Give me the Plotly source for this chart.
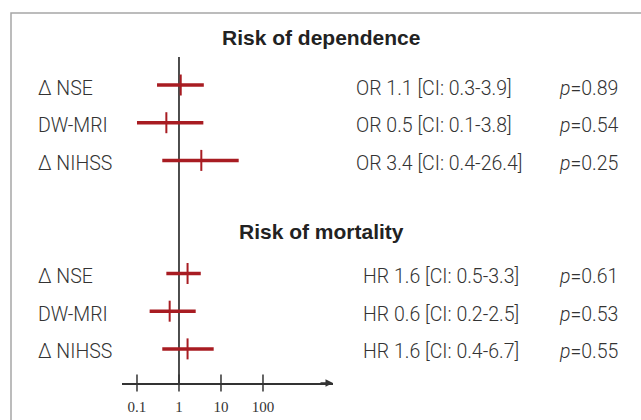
import plotly.graph_objects as go

# ---------------- data ----------------
group_titles = ["Risk of dependence", "Risk of mortality"]
variables = ["Δ NSE", "DW-MRI", "Δ NIHSS"]
dep_measure = "OR"
dep_est = [1.1, 0.5, 3.4]
dep_lo = [0.3, 0.1, 0.4]
dep_hi = [3.9, 3.8, 26.4]
dep_p = [0.89, 0.54, 0.25]
mort_measure = "HR"
mort_est = [1.6, 0.6, 1.6]
mort_lo = [0.5, 0.2, 0.4]
mort_hi = [3.3, 2.5, 6.7]
mort_p = [0.61, 0.53, 0.55]
tick_vals = [0.1, 1, 10, 100]
tick_text = ["0.1", "1", "10", "100"]
ref_value = 1

# ---------------- styling ----------------
W, H = 641, 420
TOP, BOTTOM = 57, 383                # plot-area top / axis line (pixels)
RED = "#a81c22"
DARK = "#333333"
SANS = "Roboto, Liberation Sans, Arial, sans-serif"
SERIF = "Liberation Serif, Times New Roman, serif"
x_range = [-1.357, 3.667]          # log10 units
y_range = [8.905, 0.257]           # reversed, row units
dep_rows = [1, 2, 3]
mort_rows = [6, 7, 8]
header_px = [38, 231]
FS = 19.5


def px(x):
    return x / W


def py(y):
    return (BOTTOM - y) / (BOTTOM - TOP)


body_font = dict(family=SANS, size=FS, color=DARK, weight=300)

fig = go.Figure()

# reference vertical line at 1
fig.add_trace(go.Scatter(x=[ref_value, ref_value], y=[y_range[1], y_range[0]],
                         mode="lines", line=dict(color="#3a3a3a", width=1.8),
                         hoverinfo="skip", showlegend=False))

groups = [
    (dep_measure, dep_est, dep_lo, dep_hi, dep_p, dep_rows, px(354)),
    (mort_measure, mort_est, mort_lo, mort_hi, mort_p, mort_rows, px(361)),
]

for measure, est, lo, hi, pv, rows, stat_x in groups:
    xs, ys = [], []
    for l, h, r in zip(lo, hi, rows):
        xs += [l, h, None]
        ys += [r, r, None]
    fig.add_trace(go.Scatter(x=xs, y=ys, mode="lines",
                             line=dict(color=RED, width=3.5),
                             hoverinfo="skip", showlegend=False))
    fig.add_trace(go.Scatter(x=est, y=rows, mode="markers",
                             marker=dict(symbol="line-ns", size=15,
                                         line=dict(color=RED, width=2)),
                             showlegend=False))
    for name, e, l, h, p, r in zip(variables, est, lo, hi, pv, rows):
        fig.add_annotation(x=px(36), xref="paper", y=r, yref="y",
                           text=name, showarrow=False, xanchor="left",
                           yshift=-3, font=body_font)
        fig.add_annotation(x=stat_x, xref="paper", y=r, yref="y",
                           text=f"{measure} {e} [CI: {l}-{h}]", showarrow=False,
                           xanchor="left", yshift=-3, font=body_font)
        fig.add_annotation(x=px(557), xref="paper", y=r, yref="y",
                           text=f"<i>p</i>={p:.2f}", showarrow=False,
                           xanchor="left", yshift=-3, font=body_font)

for title, hp in zip(group_titles, header_px):
    fig.add_annotation(x=px(321), xref="paper", y=py(hp), yref="paper",
                       text=f"<b>{title}</b>", showarrow=False,
                       xanchor="center", yanchor="middle",
                       font=dict(family="Liberation Sans, Arial, sans-serif",
                                 size=21, color="#222222"))

# tick marks crossing the axis
fig.add_trace(go.Scatter(x=tick_vals, y=[y_range[0]] * len(tick_vals), mode="markers",
                         marker=dict(symbol="line-ns", size=12,
                                     line=dict(color=DARK, width=1.5)),
                         cliponaxis=False, hoverinfo="skip", showlegend=False))

# arrow head at axis end
fig.add_annotation(x=x_range[1], y=y_range[0], xref="x", yref="y", text="",
                   showarrow=True, ax=-14, ay=0, arrowhead=2, arrowsize=1.0,
                   arrowwidth=1.5, arrowcolor=DARK, standoff=0)

# outer frame
fig.add_shape(type="rect", xref="paper", yref="paper",
              x0=px(11), x1=1.2, y0=-0.5, y1=py(13),
              line=dict(color="#a6a6a6", width=1.5))

fig.update_layout(
    width=W, height=H,
    margin=dict(l=0, r=0, t=TOP, b=H - BOTTOM),
    paper_bgcolor="white", plot_bgcolor="white",
    xaxis=dict(type="log", range=x_range, domain=[px(122), px(333)],
               tickvals=tick_vals, ticktext=tick_text, ticks="",
               showgrid=False, zeroline=False, showline=True,
               linecolor=DARK, linewidth=1.5, ticklabelstandoff=9,
               tickfont=dict(family=SERIF, size=15, color=DARK)),
    yaxis=dict(range=y_range, visible=False, showgrid=False, zeroline=False),
)

fig.write_html("out.html", config={"displayModeBar": False},
               post_script="document.body.style.margin='0';document.body.style.overflow='hidden';")
